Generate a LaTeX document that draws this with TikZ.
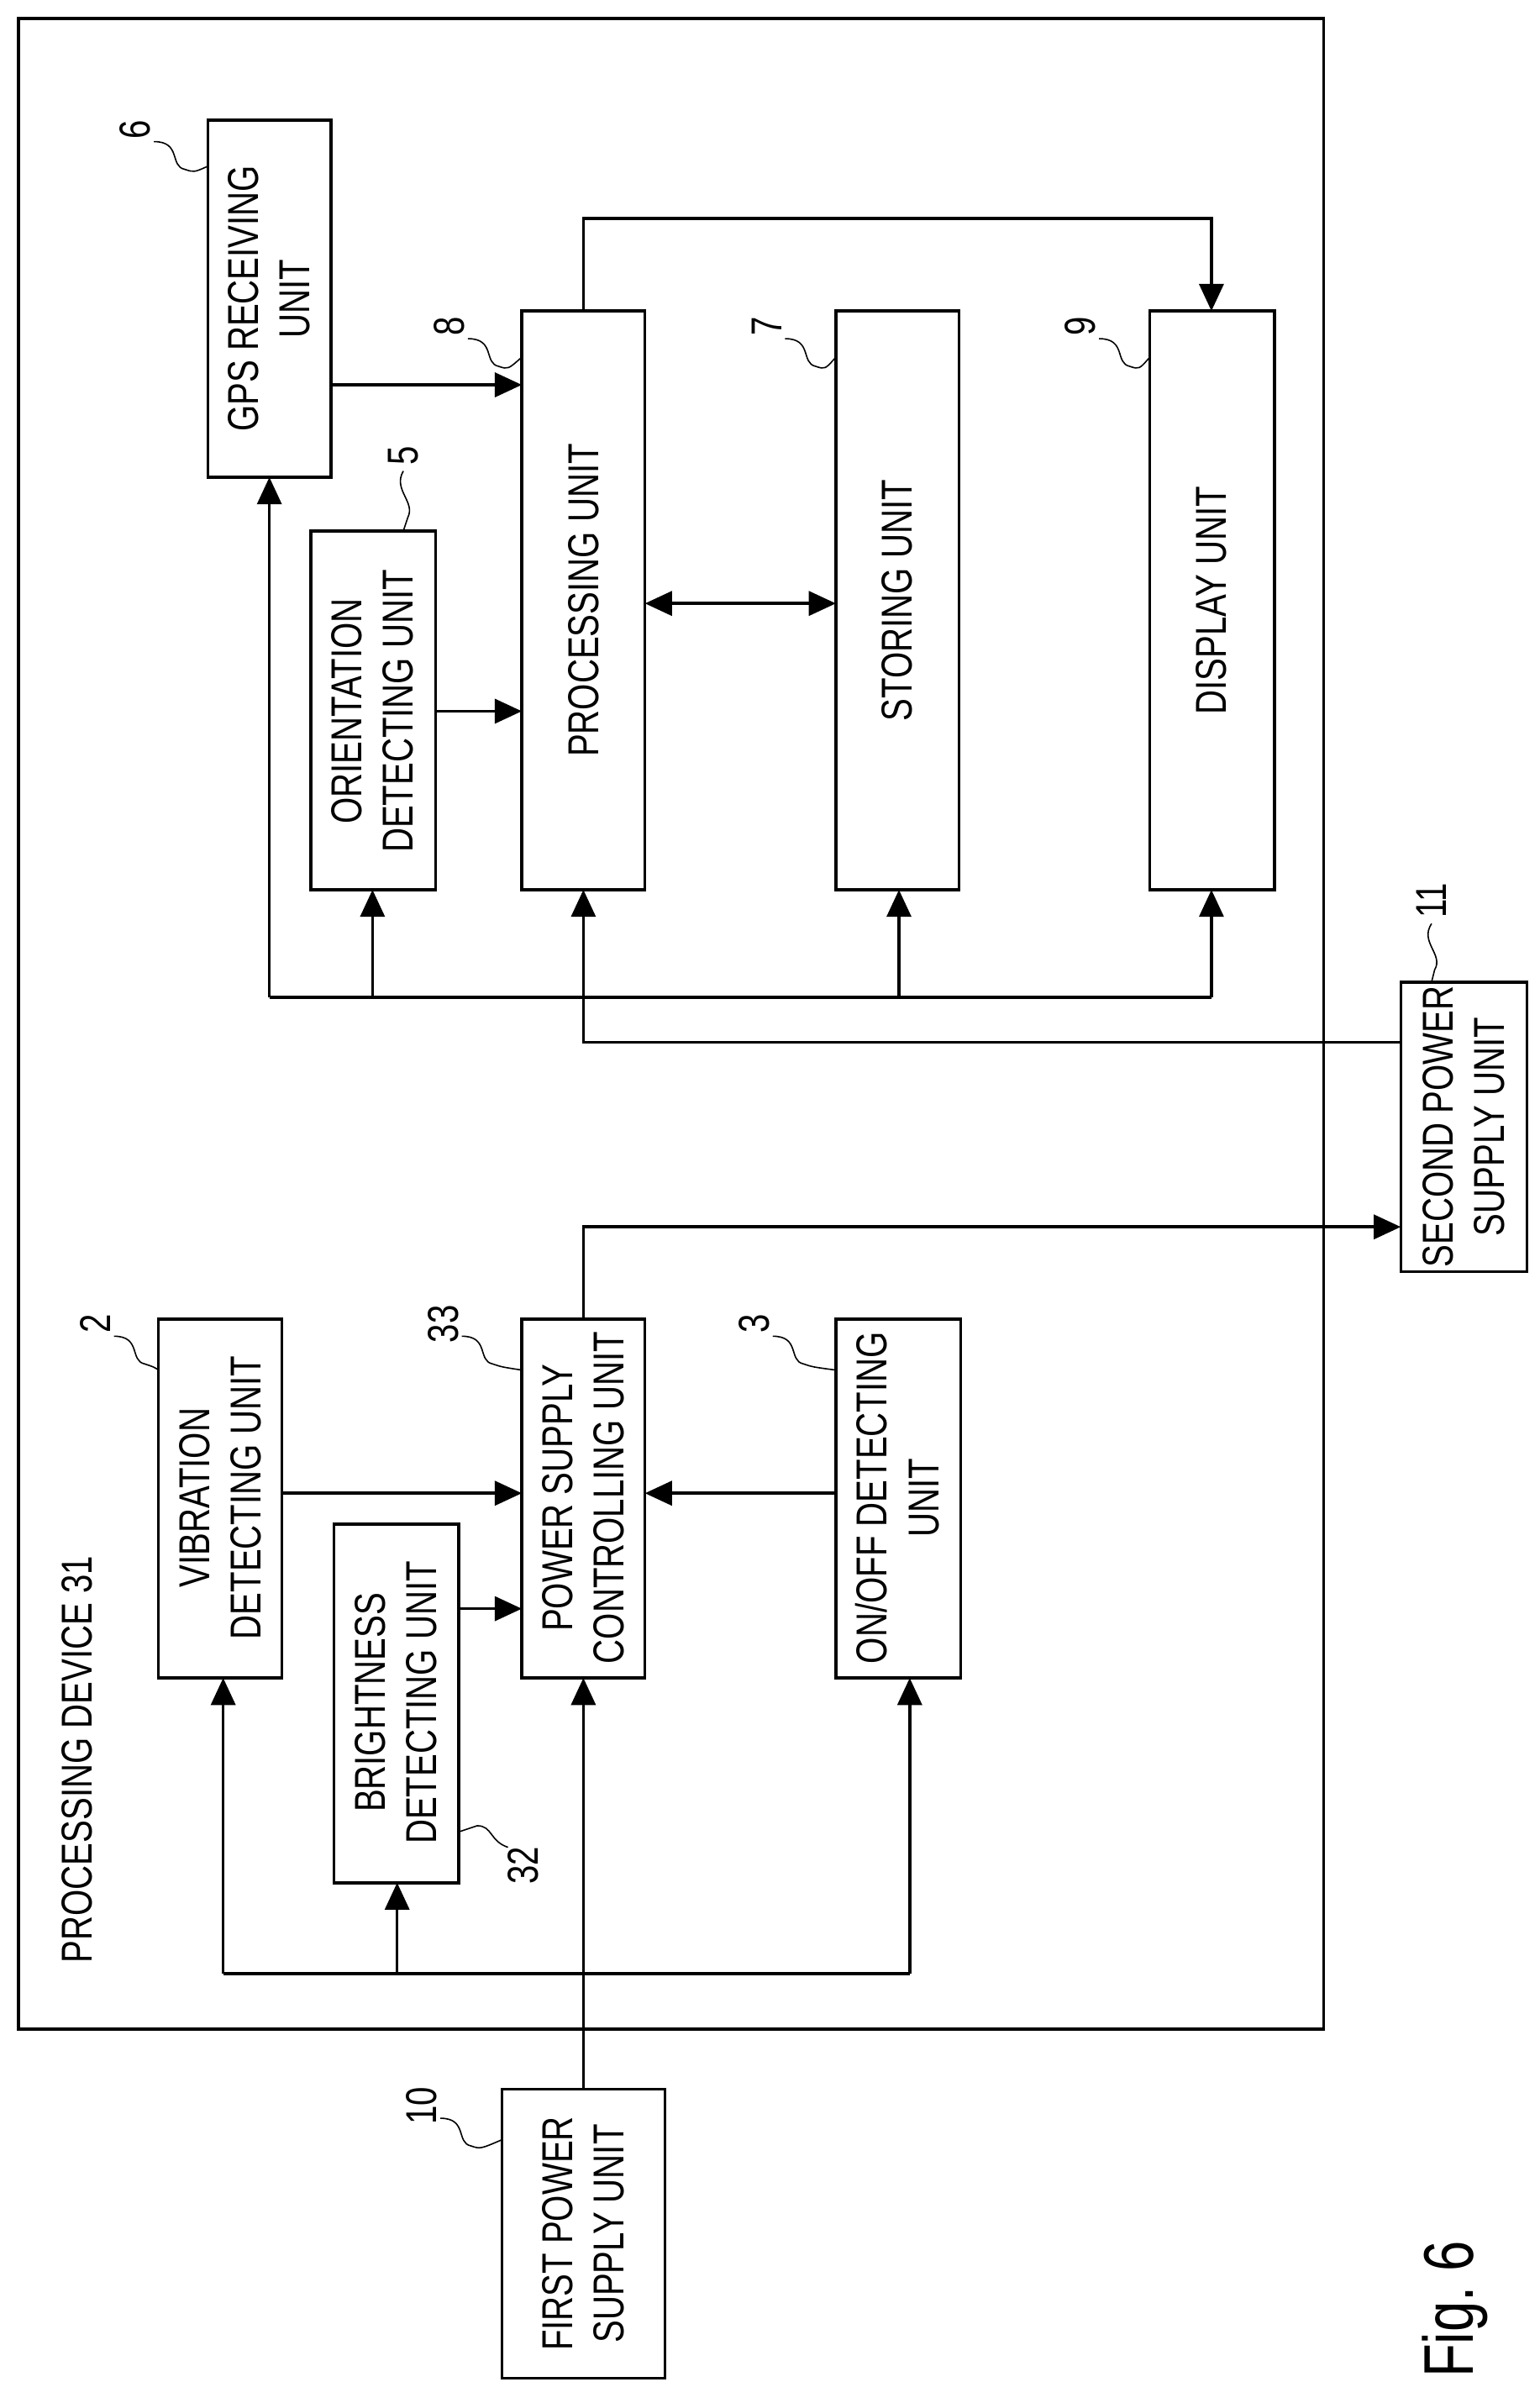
\documentclass[tikz,border=0pt]{standalone}
\usepackage{fontspec}
\setmainfont{Liberation Sans}[FakeStretch=0.78]
\usetikzlibrary{positioning,arrows.meta}
\tikzset{every picture/.style={line width=1.1pt}}

\begin{document}
\begin{tikzpicture}[x=0.02cm, y=-0.02cm,
    blk/.style={draw, rectangle, inner sep=0pt, align=center, font=\fontsize{16}{19}\selectfont},
    txt/.style={rotate=90, align=center, font=\fontsize{16}{19}\selectfont},
    lbl/.style={rotate=90, font=\fontsize{16}{19}\selectfont},
    arr/.style={-{Triangle[length=10pt,width=9pt]}},
    darr/.style={{Triangle[length=10pt,width=9pt]}-{Triangle[length=10pt,width=9pt]}},
    sq/.style={line width=0.5pt}]
\useasboundingbox (0,0) rectangle (1000,1561);

    % Processing device
    \draw (12,12) rectangle (860,1318);
    \node[lbl, anchor=west] (PD) at (50,1282) {PROCESSING DEVICE 31};

    % Units (upper group)
    \draw (135,78) rectangle (215,310); \node[txt] (GPS) at (175,194) {GPS RECEIVING\\UNIT};
    \draw (202,345) rectangle (283,578); \node[txt] (ORI) at (242,462) {ORIENTATION\\DETECTING UNIT};
    \draw (339,202) rectangle (419,578); \node[txt] (PRC) at (379,390) {PROCESSING UNIT};
    \draw (543,202) rectangle (623,578); \node[txt] (STO) at (583,390) {STORING UNIT};
    \draw (747,202) rectangle (828,578); \node[txt] (DSP) at (787,390) {DISPLAY UNIT};
    \draw (910,638) rectangle (992,826); \node[txt] (SPS) at (951,732) {SECOND POWER\\SUPPLY UNIT};

    % Units (lower group)
    \draw (103,857) rectangle (183,1090); \node[txt] (VIB) at (143,973) {VIBRATION\\DETECTING UNIT};
    \draw (217,990) rectangle (298,1223); \node[txt] (BRI) at (257,1106) {BRIGHTNESS\\DETECTING UNIT};
    \draw (339,857) rectangle (419,1090); \node[txt] (PSC) at (379,973) {POWER SUPPLY\\CONTROLLING UNIT};
    \draw (543,857) rectangle (624,1090); \node[txt] (ONF) at (583,973) {ON/OFF DETECTING\\UNIT};
    \draw (326,1357) rectangle (432,1545); \node[txt] (FPS) at (379,1451) {FIRST POWER\\SUPPLY UNIT};

    % Signal connections
    \draw[arr] (215,250) -- (339,250);
    \draw[arr] (283,462) -- (339,462);
    \draw[darr] (419,392) -- (543,392);
    \draw[arr] (379,202) -- (379,142) -- (787,142) -- (787,202);
    \draw[arr] (183,970) -- (339,970);
    \draw[arr] (298,1045) -- (339,1045);
    \draw[arr] (543,970) -- (419,970);
    \draw[arr] (379,857) -- (379,797) -- (910,797);

    % Power from second supply
    \draw[arr] (910,677) -- (379,677) -- (379,578);
    \draw (175,648) -- (787,648);
    \foreach \x/\y in {175/310, 242/578, 584/578, 787/578}
        \draw[arr] (\x,648) -- (\x,\y);

    % Power from first supply
    \draw[arr] (379,1357) -- (379,1090);
    \draw (145,1282) -- (591,1282);
    \foreach \x/\y in {145/1090, 258/1223, 591/1090}
        \draw[arr] (\x,1282) -- (\x,\y);

    % Reference numerals
    \foreach \n/\lx/\ly/\ax/\ay in {6/88/84/135/108, 8/292/212/339/232, 7/498/212/543/232,
        9/702/212/747/232, 2/62/860/103/890, 33/288/860/339/890, 3/490/860/543/890, 10/274/1368/326/1390}{
        \node[lbl] (R\n) at (\lx,\ly) {\n};
        \draw[sq] (\lx+12,\ly+8) .. controls (\lx+30,\ly+8) and (\lx+22,\ly+24) .. (\lx+32,\ly+26)
            .. controls (\lx+38,\ly+28) .. (\ax,\ay);
    }
    \node[lbl] (R5) at (262,296) {5};
    \draw[sq] (262,306) .. controls (255,318) and (270,326) .. (265,336) -- (262,345);
    \node[lbl] (R11) at (930,585) {11};
    \draw[sq] (930,600) .. controls (922,612) and (938,620) .. (932,630) -- (930,638);
    \node[lbl] (R32) at (340,1212) {32};
    \draw[sq] (330,1200) .. controls (318,1196) and (320,1186) .. (310,1186) -- (298,1190);

    % Figure label
    \node[rotate=90, font=\fontsize{26}{30}\selectfont] (FIG) at (945,1500) {Fig.\ 6};
\end{tikzpicture}
\end{document}
